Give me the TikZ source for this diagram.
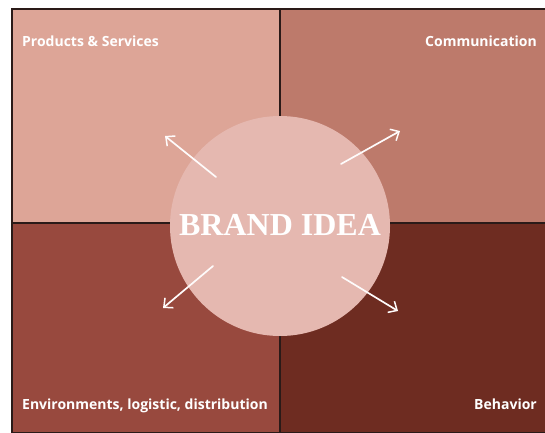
\documentclass[tikz,border=0pt]{standalone}
\usepackage{fontspec}
\newfontfamily\labelfont{Open Sans}
\usetikzlibrary{arrows.meta}
\definecolor{quadA}{HTML}{DDA597}
\definecolor{quadB}{HTML}{BD7A6B}
\definecolor{quadC}{HTML}{98493E}
\definecolor{quadD}{HTML}{6E2C21}
\definecolor{core}{HTML}{E5B8B0}
\definecolor{edge}{HTML}{2A1A18}
\begin{document}
\begin{tikzpicture}[x=1pt,y=-1pt,
  quad/.style={draw=edge,line width=1.2pt},
  cornerlabel/.style={text=white,font=\labelfont\bfseries\fontsize{14}{16}\selectfont,inner sep=0pt},
  spread/.style={draw=white!95!core,line width=1.7pt,line cap=round,
    -{Straight Barb[length=7pt,width=13pt,line width=1.5pt]}}]
\useasboundingbox (0,0) rectangle (545,432);
\fill[white] (0,0) rectangle (545,432);
% four quadrants
\path[quad,fill=quadA] (12,9) rectangle (280,223);
\path[quad,fill=quadB] (280,9) rectangle (546,223);
\path[quad,fill=quadC] (12,223) rectangle (280,433);
\path[quad,fill=quadD] (280,223) rectangle (546,433);
% central idea
\node[circle,fill=core,minimum size=220pt,inner sep=0pt] (idea) at (280,226) {};
\node[text=white,font=\fontspec{Liberation Serif}\bfseries\fontsize{32}{36}\selectfont,inner sep=0pt] (title) at (280,225) {BRAND IDEA};
% quadrant labels
\node[cornerlabel,anchor=base west] (ps) at (22,46) {Products \& Services};
\node[cornerlabel,anchor=base east] (comm) at (537,46) {Communication};
\node[cornerlabel,anchor=base west] (env) at (22,409) {Environments, logistic, distribution};
\node[cornerlabel,anchor=base east] (beh) at (537,409) {Behavior};
% outward arrows
\coordinate (a1s) at (216,177); \coordinate (a1e) at (165,136);
\coordinate (a2s) at (341,164); \coordinate (a2e) at (400,131);
\coordinate (a3s) at (213,266); \coordinate (a3e) at (163,308);
\coordinate (a4s) at (342,277); \coordinate (a4e) at (398,311);
\draw[spread] (a1s) -- (a1e);
\draw[spread] (a2s) -- (a2e);
\draw[spread] (a3s) -- (a3e);
\draw[spread] (a4s) -- (a4e);
\end{tikzpicture}
\end{document}
